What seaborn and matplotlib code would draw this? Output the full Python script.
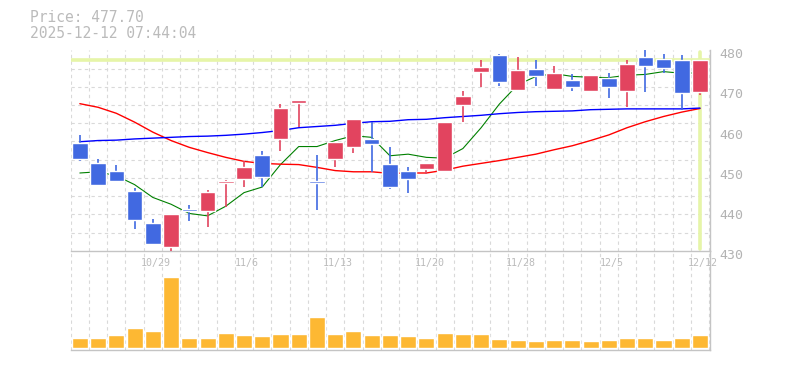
import matplotlib
matplotlib.use("Agg")
import matplotlib.pyplot as plt
import matplotlib.transforms as mtransforms
import numpy as np
import seaborn as sns

# Daily candles, 10/23 - 12/12 (trading days only)
dates = ["10/23", "10/24", "10/27", "10/28", "10/29", "10/30", "10/31",
         "11/4", "11/5", "11/6", "11/7", "11/10", "11/11", "11/12", "11/13",
         "11/14", "11/17", "11/18", "11/19", "11/20", "11/21", "11/25",
         "11/26", "11/27", "11/28", "12/1", "12/2", "12/3", "12/4", "12/5",
         "12/8", "12/9", "12/10", "12/11", "12/12"]
opens = [457.0, 452.0, 450.0, 444.9, 436.9, 431.0, 440.4, 440.0, 446.8, 447.8,
         454.0, 457.8, 466.8, 447.5, 452.8, 455.8, 458.0, 451.7, 450.0, 450.3,
         450.0, 466.3, 474.5, 478.8, 470.0, 475.3, 470.3, 472.5, 469.8, 473.0,
         469.8, 478.3, 477.8, 477.5, 469.6]
highs = [459.0, 452.9, 451.5, 445.7, 437.9, 439.2, 441.4, 445.2, 447.7, 452.3,
         455.0, 466.5, 467.5, 454.0, 457.1, 463.0, 462.2, 456.0, 451.0, 452.0,
         462.1, 469.8, 477.5, 479.2, 478.4, 477.5, 476.1, 474.0, 473.8, 474.3,
         477.7, 480.0, 479.0, 478.8, 477.7]
lows = [452.3, 446.3, 447.3, 435.5, 431.4, 430.0, 437.3, 436.0, 440.8, 445.8,
        445.8, 454.8, 460.8, 440.1, 450.8, 454.3, 449.6, 445.3, 444.3, 449.1,
        450.0, 462.1, 470.8, 471.1, 469.8, 471.2, 470.2, 469.8, 469.8, 468.1,
        465.8, 469.6, 474.3, 465.0, 468.9]
closes = [453.0, 446.3, 447.3, 437.6, 431.7, 439.2, 439.8, 444.7, 447.5, 451.0,
          448.3, 465.5, 467.5, 447.0, 457.1, 463.0, 456.6, 445.8, 448.0, 452.0,
          462.1, 468.5, 475.9, 472.1, 475.0, 473.7, 474.3, 470.8, 473.8, 470.8,
          476.5, 476.1, 475.6, 469.3, 477.7]
volumes = [290, 290, 380, 590, 500, 2120, 290, 290, 440, 380, 350, 410, 410,
           920, 410, 500, 380, 380, 350, 290, 440, 410, 410, 260, 230, 200,
           230, 230, 200, 230, 290, 290, 230, 290, 380]

# moving averages
ma_short = [449.4, 449.7, 448.7, 446.5, 443.3, 441.6, 439.3, 438.7, 441.1, 444.5,
            445.9, 451.5, 456.0, 456.0, 457.5, 458.7, 458.3, 453.7, 454.1, 453.3,
            453.1, 455.5, 460.7, 466.6, 471.4, 473.5, 474.2, 473.5, 473.3, 473.2,
            473.8, 474.0, 474.7, 474.3, 474.4]
ma_mid = [466.7, 465.8, 464.3, 462.1, 459.6, 457.5, 455.8, 454.5, 453.3, 452.3,
          451.8, 451.6, 451.5, 450.8, 450.0, 449.7, 449.7, 449.3, 449.4, 449.4,
          450.1, 451.1, 451.8, 452.5, 453.3, 454.1, 455.2, 456.2, 457.5, 458.9,
          460.7, 462.2, 463.5, 464.6, 465.5]
ma_long = [457.2, 457.5, 457.6, 457.9, 458.1, 458.3, 458.5, 458.6, 458.8, 459.1,
           459.5, 460.0, 460.7, 461.0, 461.3, 461.8, 462.2, 462.3, 462.7, 462.8,
           463.2, 463.5, 463.8, 464.2, 464.5, 464.7, 464.8, 464.9, 465.2, 465.3,
           465.4, 465.4, 465.4, 465.4, 465.6]

tick_labels = ["10/29", "11/6", "11/13", "11/20", "11/28", "12/5", "12/12"]
price_ticks = [430, 440, 450, 460, 470, 480]
last_price = 477.70
timestamp = "2025-12-12 07:44:04"

RED = "#e2445f"
BLUE = "#4169e1"
VOL = "#fdb833"
GRID = "#d9d9d9"
SPINE = "#c4c4c4"
TEXT = "#bbbbbb"

sns.set_style("white")
plt.rcParams["font.family"] = ["DejaVu Sans Mono"]

fig = plt.figure(figsize=(7.85, 3.7), dpi=100)
ax_vol = fig.add_axes([0.0901, 0.0549, 0.8144, 0.2676])
ax = fig.add_axes([0.0901, 0.3224, 0.8144, 0.5414])

n = len(dates)
x = np.arange(n)
o = np.array(opens)
c = np.array(closes)
colors = np.where(c >= o, RED, BLUE)

# price panel: candles
ax.bar(x, np.abs(c - o), bottom=np.minimum(o, c), width=0.85, color=colors, zorder=3)
ax.vlines(x, lows, highs, colors=colors, lw=1.2, zorder=2.9)

sns.lineplot(x=x, y=ma_short, color="green", lw=0.8, ax=ax, zorder=2)
sns.lineplot(x=x, y=ma_mid, color="red", lw=1.0, ax=ax, zorder=2)
sns.lineplot(x=x, y=ma_long, color="blue", lw=1.0, ax=ax, zorder=2)

# current price markers
ax.axhline(last_price, color="#e6f5a8", lw=2.6, zorder=1.5)
ax.axvline(x[-1], ymin=0.008, ymax=0.99, color="#e6f5a8", lw=2.6, zorder=1.5)

ax.set_xlim(-0.5, n - 0.45)
ax.set_ylim(430, 480)
ax.set_xticks([dates.index(t) for t in tick_labels], tick_labels)
ax.set_xticks(np.arange(-0.5, n, 1.0), minor=True)
ax.set_yticks(price_ticks)
ax.set_yticks(np.linspace(430, 480, 12), minor=True)
ax.yaxis.tick_right()
ax.grid(False)
ax.grid(which="minor", color=GRID, linestyle=(0, (3, 3)), lw=0.8, zorder=0)
ax.tick_params(which="both", length=0)
ax.tick_params(axis="y", pad=7, labelsize=9.5, labelcolor="#b3b3b3")
ax.tick_params(axis="x", pad=5, labelsize=7.2, labelcolor=TEXT)
ax.set_xlabel("")
ax.set_ylabel("")
for lbl in ax.get_yticklabels():
    lbl.set_transform(lbl.get_transform() + mtransforms.ScaledTranslation(0, -0.03, fig.dpi_scale_trans))
for lbl in ax.get_xticklabels():
    lbl.set_transform(lbl.get_transform() + mtransforms.ScaledTranslation(0.03, 0, fig.dpi_scale_trans))

for side in ["left", "top"]:
    ax.spines[side].set_visible(False)
for side in ["right", "bottom"]:
    ax.spines[side].set_color(SPINE)
    ax.spines[side].set_linewidth(1)

# volume panel
sns.barplot(x=dates, y=volumes, order=dates, color=VOL, saturation=1,
            width=0.88, errorbar=None, ax=ax_vol, zorder=2)
ax_vol.set_xlim(-0.5, n - 0.45)
ax_vol.set_ylim(-60, 2910)
ax_vol.set_xticks(np.arange(-0.5, n, 1.0), minor=True)
ax_vol.set_yticks([])
ax_vol.grid(False)
ax_vol.grid(which="minor", axis="x", color=GRID, linestyle=(0, (3, 3)), lw=0.8, zorder=0)
ax_vol.tick_params(which="both", length=0, labelbottom=False)
ax_vol.set_xlabel("")
ax_vol.set_ylabel("")
for side in ["left", "top"]:
    ax_vol.spines[side].set_visible(False)
for side in ["right", "bottom"]:
    ax_vol.spines[side].set_color(SPINE)
    ax_vol.spines[side].set_linewidth(1)

fig.text(30 / 785, 1 - 18 / 370, f"Price: {last_price:.2f}", fontsize=10.5,
         color=TEXT, ha="left", va="center")
fig.text(30 / 785, 1 - 33.5 / 370, timestamp, fontsize=10.5,
         color=TEXT, ha="left", va="center")

fig.savefig("out.png", dpi=100)
